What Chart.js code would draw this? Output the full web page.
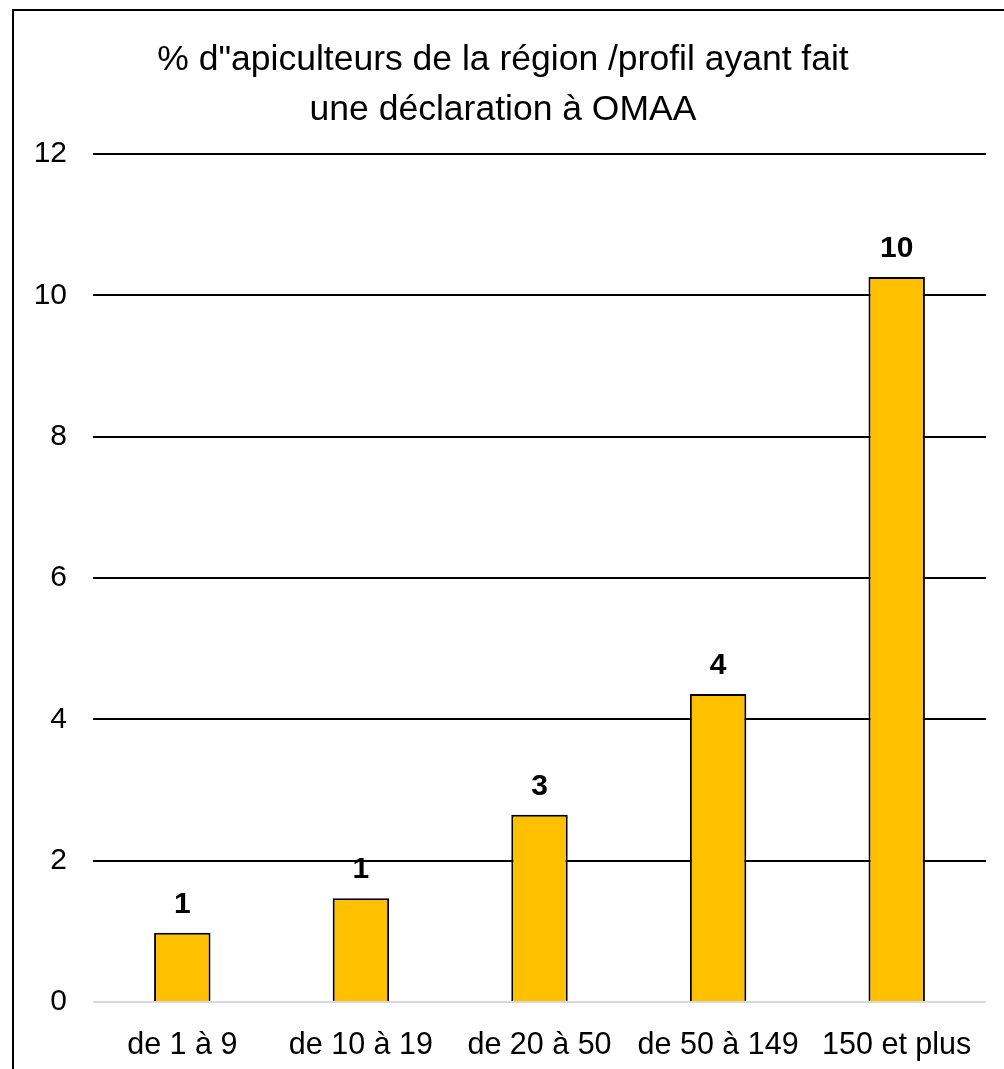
<!DOCTYPE html>
<html>
<head>
<meta charset="utf-8">
<script src="https://cdn.jsdelivr.net/npm/chart.js@4.4.1/dist/chart.umd.min.js"></script>
<style>
  html, body { margin: 0; padding: 0; background: #fff; overflow: hidden; }
  #wrap { position: relative; width: 1004px; height: 1069px; }
  #frame { position: absolute; left: 12px; top: 9px; right: -10px; bottom: -10px;
           border-left: 2px solid #000; border-top: 2px solid #000; }
  canvas { position: absolute; left: 0; top: 0; }
</style>
</head>
<body>
<div id="wrap">
  <div id="frame"></div>
  <canvas id="chart"></canvas>
</div>
<script>
// data
const categories = ['de 1 à 9', 'de 10 à 19', 'de 20 à 50', 'de 50 à 149', '150 et plus'];
const values = [0.98, 1.47, 2.65, 4.36, 10.26];
const titleLines = ['% d"apiculteurs de la région /profil ayant fait', 'une déclaration à OMAA'];

const FONT = "'Liberation Sans', Arial, sans-serif";

// draws the rounded value above each bar
const barLabels = {
  id: 'barLabels',
  afterDatasetsDraw(chart) {
    const ctx = chart.ctx;
    const meta = chart.getDatasetMeta(0);
    ctx.save();
    ctx.font = 'bold 30px ' + FONT;
    ctx.fillStyle = '#000';
    ctx.textAlign = 'center';
    ctx.textBaseline = 'middle';
    meta.data.forEach((bar, i) => {
      ctx.fillText(String(Math.round(values[i])), bar.x, bar.y - 28);
    });
    ctx.restore();
  }
};

const ctx = document.getElementById('chart').getContext('2d');
new Chart(ctx, {
  type: 'bar',
  data: {
    labels: categories,
    datasets: [{
      data: values,
      backgroundColor: '#FFC000',
      borderColor: '#000',
      borderWidth: 2,
      categoryPercentage: 1,
      barPercentage: 0.316
    }]
  },
  options: {
    responsive: true,
    maintainAspectRatio: false,
    devicePixelRatio: 1,
    animation: false,
    layout: { padding: { left: 20, right: 18, top: 0, bottom: 0 } },
    plugins: {
      legend: { display: false },
      tooltip: { enabled: false },
      title: {
        display: true,
        text: titleLines,
        color: '#000',
        font: { family: FONT, size: 35.5, weight: 'normal', lineHeight: 1.41 },
        padding: { top: 35, bottom: 19 }
      }
    },
    scales: {
      x: {
        grid: { display: false },
        border: { display: false },
        ticks: { color: '#000', font: { family: FONT, size: 30.5 }, padding: 17, maxRotation: 0 },
        afterFit: (s) => { s.height = 67; }
      },
      y: {
        min: 0,
        max: 12,
        ticks: { stepSize: 2, color: '#000', font: { family: FONT, size: 30 }, padding: 26 },
        grid: {
          drawTicks: false,
          lineWidth: 2,
          color: (c) => c.tick && c.tick.value === 0 ? '#d9d9d9' : '#000'
        },
        border: { display: false },
        afterFit: (s) => { s.width = 73; }
      }
    }
  },
  plugins: [barLabels]
});
</script>
</body>
</html>
